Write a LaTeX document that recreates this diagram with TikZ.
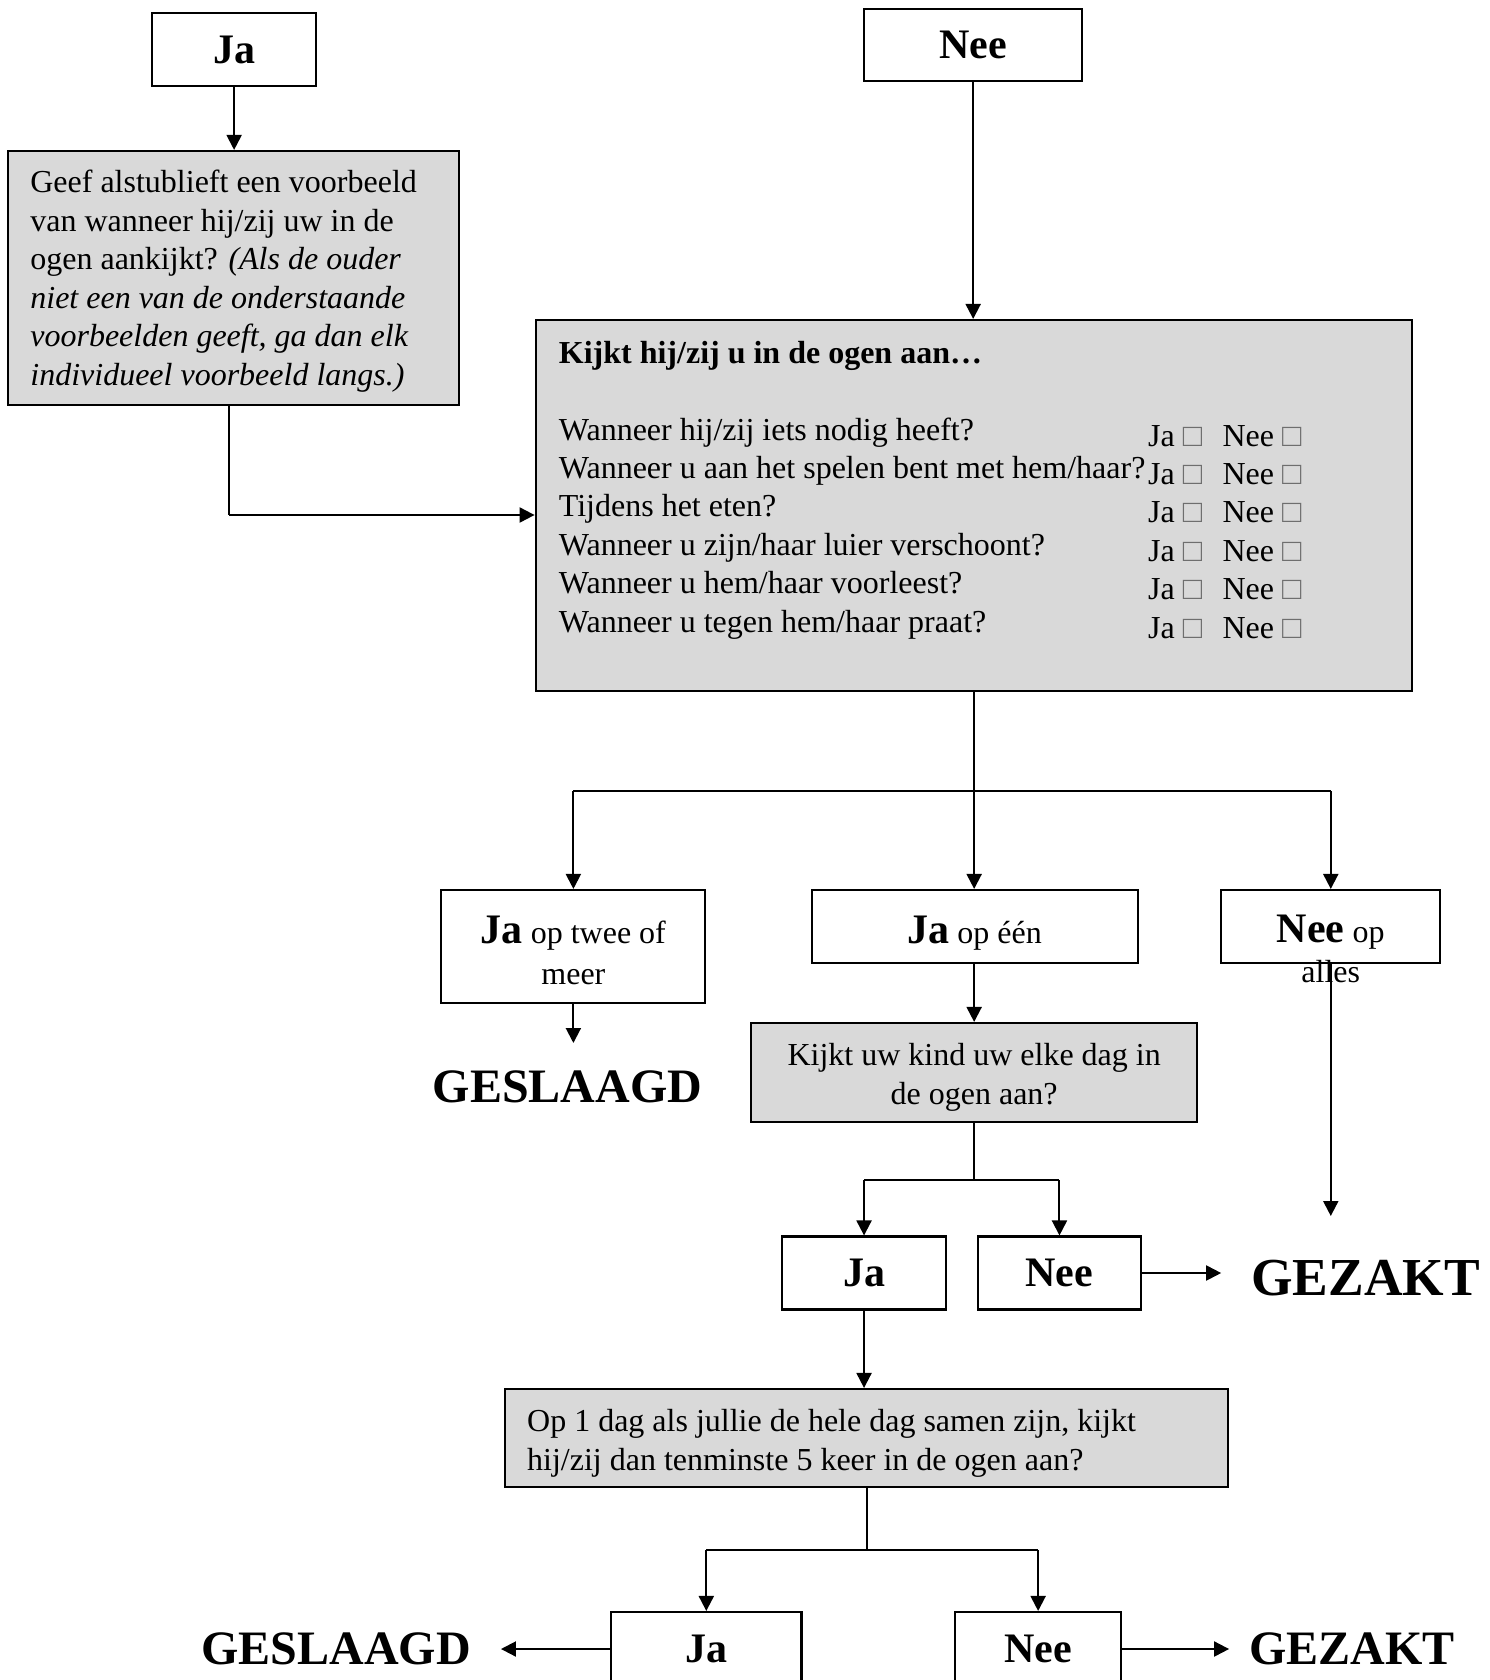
\documentclass[tikz,border=0pt]{standalone}
\usepackage{fontspec}
\setmainfont{Liberation Serif}
\usetikzlibrary{arrows.meta,calc}
\definecolor{boxgray}{RGB}{217,217,217}
\definecolor{chkgray}{RGB}{110,110,110}
\newcommand\bigb{\fontsize{21}{21}\selectfont\bfseries}
\newcommand\hugeb{\fontsize{24}{24}\selectfont\bfseries}
\newcommand\chk{{\color{chkgray}□}}
\begin{document}
\begin{tikzpicture}[x=0.496pt,y=-0.5pt,
  font=\fontsize{16}{19.2}\selectfont,
  box/.style={draw, line width=1.05pt, rectangle, inner sep=0pt, align=center},
  gbox/.style={box, fill=boxgray},
  txt/.style={inner sep=0pt},
  arr/.style={line width=1pt, -{Triangle[length=7.5pt,width=7.5pt]}},
  ln/.style={line width=1pt}]
\useasboundingbox (0,0) rectangle (1502,1680);
\clip (0,0) rectangle (1502,1680);
\fill[white] (0,0) rectangle (1502,1680);

% top boxes
\node[box, minimum width=82.3pt, minimum height=36.5pt] (A) at (236,49.5) {\bigb Ja};
\node[gbox, minimum width=225.5pt, minimum height=127pt] (B) at (235.4,278) {};
\node[txt, anchor=base west, text width=230pt, align=flush left, font=\fontsize{16}{19.25}\selectfont] (Btext) at (30.2,193)
 {Geef alstublieft een voorbeeld\\van wanneer hij/zij uw in de\\ogen aankijkt? \textit{(Als de ouder}\\\textit{niet een van de onderstaande}\\\textit{voorbeelden geeft, ga dan elk}\\\textit{individueel voorbeeld langs.)}};
\node[box, minimum width=109pt, minimum height=36pt] (C) at (981,45) {\bigb Nee};

% main question box
\node[gbox, minimum width=438pt, minimum height=185.5pt] (D) at (981.5,505.5) {};
\node[txt, anchor=base west] (title) at (563,363) {\bfseries Kijkt hij/zij u in de ogen aan…};
\node[txt, anchor=base west, text width=330pt, align=flush left] (qs) at (563,440)
 {Wanneer hij/zij iets nodig heeft?\\Wanneer u aan het spelen bent met hem/haar?\\Tijdens het eten?\\Wanneer u zijn/haar luier verschoont?\\Wanneer u hem/haar voorleest?\\Wanneer u tegen hem/haar praat?};
\node[txt, anchor=base west, text width=35pt, align=flush left] (jacol) at (1157,446)
 {Ja \chk\\Ja \chk\\Ja \chk\\Ja \chk\\Ja \chk\\Ja \chk};
\node[txt, anchor=base west, text width=45pt, align=flush left] (neecol) at (1232,446)
 {Nee \chk\\Nee \chk\\Nee \chk\\Nee \chk\\Nee \chk\\Nee \chk};

% second row
\node[box, minimum width=132pt, minimum height=56.5pt] (E) at (578,946.5) {};
\node[txt, anchor=base, text width=130pt, align=flush center, font=\fontsize{16}{20.5}\selectfont] (Etext) at (578,943) {{\bigb Ja} op twee of\\meer};
\node[box, minimum width=163pt, minimum height=36.5pt] (F) at (982.5,926.5) {};
\node[txt, anchor=base] (Ftext) at (982.5,943) {{\bigb Ja} op één};
\node[box, minimum width=109.6pt, minimum height=36.5pt] (G) at (1341.5,926.5) {};
\node[txt, anchor=base, text width=110pt, align=flush center, font=\fontsize{16}{20}\selectfont] (Gtext) at (1341.5,942) {{\bigb Nee} op\\alles};
\node[txt, anchor=base] (pass1) at (572,1102) {\hugeb GESLAAGD};

\node[gbox, minimum width=223pt, minimum height=49.5pt] (H) at (982,1072.5) {};
\node[txt, anchor=base, text width=220pt, align=flush center, font=\fontsize{16}{19.5}\selectfont] (Htext) at (982,1065) {Kijkt uw kind uw elke dag in\\de ogen aan?};
\node[box, minimum width=81.8pt, minimum height=36.5pt] (I) at (871,1273) {\bigb Ja};
\node[box, minimum width=81.8pt, minimum height=36.5pt] (J) at (1068,1273) {\bigb Nee};
\node[txt, anchor=base west] (fail1) at (1261,1295) {\fontsize{26.7}{26.7}\selectfont\bfseries GEZAKT};

\node[gbox, minimum width=361.6pt, minimum height=49pt] (K) at (873.5,1438) {};
\node[txt, anchor=base west, text width=340pt, align=flush left, font=\fontsize{16}{19.5}\selectfont] (Ktext) at (531,1431) {Op 1 dag als jullie de hele dag samen zijn, kijkt\\hij/zij dan tenminste 5 keer in de ogen aan?};
\node[box, minimum width=95.2pt, minimum height=37pt] (L) at (712,1649) {\bigb Ja};
\node[box, minimum width=82.8pt, minimum height=37pt] (M) at (1046.5,1649) {\bigb Nee};
\node[txt, anchor=base] (pass2) at (338.7,1664) {\hugeb GESLAAGD};
\node[txt, anchor=base west] (fail2) at (1259,1664) {\hugeb GEZAKT};

% coordinates
\coordinate (bd) at (231,515);
\coordinate (j1) at (982,791);
\coordinate (eend) at (578,1043);
\coordinate (gend) at (1341.5,1216);
\coordinate (j2) at (982,1180);
\coordinate (j3) at (873.5,1550);
\coordinate (jend) at (1231,1273);
\coordinate (lend) at (505,1649);
\coordinate (mend) at (1239,1649);

% connectors
\draw[arr] (A.south) -- (A.south |- B.north);
\draw[ln] (B.south -| bd) -- (bd);
\draw[arr] (bd) -- (bd -| D.west);
\draw[arr] (C.south) -- (C.south |- D.north);
\draw[arr] (D.south -| j1) -- (j1 |- F.north);
\draw[ln] (j1 -| E.north) -- (j1 -| G.north);
\draw[arr] (j1 -| E.north) -- (E.north);
\draw[arr] (j1 -| G.north) -- (G.north);
\draw[arr] (E.south) -- (eend);
\draw[arr] (F.south -| j1) -- (j1 |- H.north);
\draw[arr] (G.south) -- (gend);
\draw[ln] (H.south -| j2) -- (j2);
\draw[ln] (j2 -| I.north) -- (j2 -| J.north);
\draw[arr] (j2 -| I.north) -- (I.north);
\draw[arr] (j2 -| J.north) -- (J.north);
\draw[arr] (J.east) -- (jend);
\draw[arr] (I.south) -- (I.south |- K.north);
\draw[ln] (K.south -| j3) -- (j3);
\draw[ln] (j3 -| L.north) -- (j3 -| M.north);
\draw[arr] (j3 -| L.north) -- (L.north);
\draw[arr] (j3 -| M.north) -- (M.north);
\draw[arr] (L.west) -- (lend);
\draw[arr] (M.east) -- (mend);
\end{tikzpicture}
\end{document}
